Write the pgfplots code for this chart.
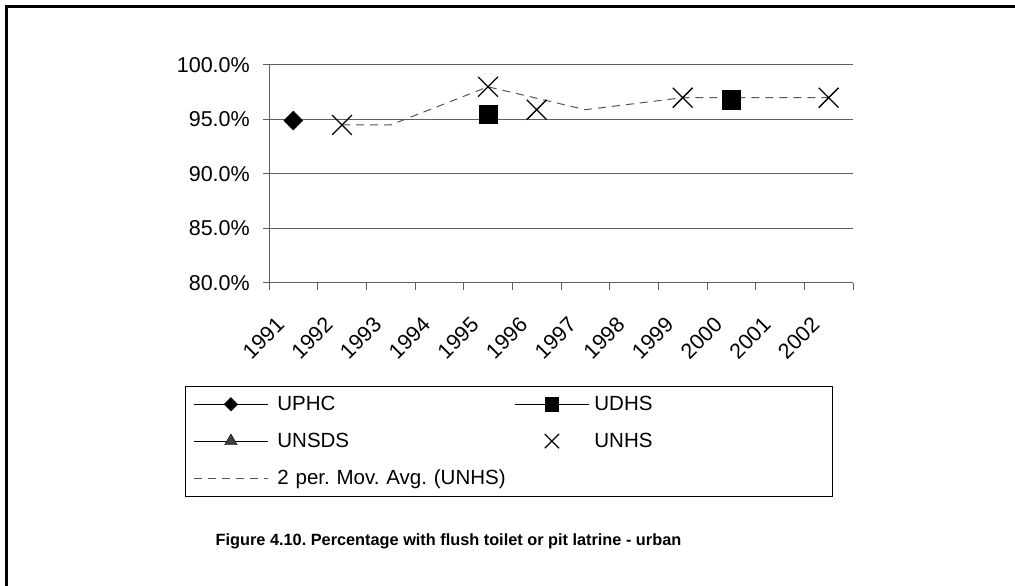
\documentclass[border=0pt]{standalone}
\usepackage{fontspec}
\setmainfont{Liberation Sans}
\usepackage{pgfplots}
\pgfplotsset{compat=1.18}
\definecolor{axgray}{RGB}{95,95,95}
\definecolor{mavg}{RGB}{85,85,85}
\frenchspacing
\begin{document}
\begin{tikzpicture}[x=1pt,y=1pt]
\useasboundingbox (0,0) rectangle (1015,586);
\fill[white] (-6,-6) rectangle (1025,595);
\draw[line width=2.4pt] (6.5,-5) -- (6.5,579.5) -- (1022,579.5);
\begin{axis}[
  at={(269pt,303pt)}, anchor=south west, scale only axis,
  width=584pt, height=218pt,
  xmin=-0.5, xmax=11.5, ymin=80, ymax=100,
  axis x line*=bottom, axis y line*=left,
  axis line style={axgray, line width=1pt, -},
  xtick={0,...,11},
  xticklabels={1991,1992,1993,1994,1995,1996,1997,1998,1999,2000,2001,2002},
  minor xtick={-0.5,0.5,...,11.5},
  ytick={80,85,90,95,100},
  yticklabels={80.0\%,85.0\%,90.0\%,95.0\%,100.0\%},
  tick align=outside, major tick length=6pt, minor tick length=7pt,
  tick style={axgray, line width=1pt},
  major x tick style={draw=none},
  ymajorgrids, grid style={axgray, line width=1pt},
  ticklabel style={font=\fontsize{21.5}{24}\selectfont},
  /pgf/number format/assume math mode=true,
  yticklabel style={anchor=east, inner sep=0pt, xshift=-13pt},
  xticklabel style={xshift=-30pt, yshift=-49pt, rotate=45, anchor=center, inner sep=0pt},
  clip=false,
  legend image code/.code={
    \draw[mark repeat=2, mark phase=2, #1, every mark/.append style={scale=0.72}]
      plot coordinates {(0pt,0pt) (37pt,0pt) (74pt,0pt)};
  },
  legend columns=2,
  legend cell align=left,
  legend style={
    at={(-0.1438,-0.4725)}, anchor=north west,
    draw=black, line width=0.8pt,
    font=\fontsize{20.5}{24}\selectfont\frenchspacing,
    inner xsep=8pt, inner ysep=7pt,
    row sep=15pt,
    nodes={inner sep=3pt},
    /tikz/column 1/.style={column sep=6pt},
    /tikz/column 2/.style={text width=232pt, column sep=2pt},
    /tikz/column 3/.style={column sep=2pt},
    /tikz/column 4/.style={text width=227pt},
  },
]
% data (x = category index: 0 = 1991 ... 11 = 2002)
\addplot[forget plot, only marks, mark=square*, mark size=6.7pt,
  mark options={rotate=45, fill=black, draw=black, line width=0.4pt}]
  coordinates {(0,94.9)};
\addplot[forget plot, only marks, mark=square*, mark size=9.2pt,
  mark options={fill=black, draw=black, line width=0.4pt}]
  coordinates {(4,95.5) (9,96.8)};
\addplot[forget plot, mavg, line width=1pt, dash pattern=on 8pt off 6pt]
  coordinates {(1,94.5) (2,94.5) (4,98.0) (5,96.95) (6,95.9) (8,97.0) (9,97.0) (11,97.0)};
\addplot[forget plot, only marks, mark=x, mark size=14pt,
  mark options={black, line width=1.3pt}]
  coordinates {(1,94.5) (4,98.0) (5,95.9) (8,97.0) (11,97.0)};
% legend
\addlegendimage{black, line width=1pt, mark=square*, mark options={rotate=45, fill=black, solid, line width=0.4pt}, mark size=6.7pt}
\addlegendentry{UPHC}
\addlegendimage{black, line width=1pt, mark=square*, mark options={fill=black, solid, line width=0.4pt}, mark size=9.2pt}
\addlegendentry{UDHS}
\addlegendimage{black, line width=1pt, mark=triangle*, mark options={fill=darkgray, draw=black, line width=0.4pt}, mark size=10pt}
\addlegendentry{UNSDS}
\addlegendimage{only marks, mark=x, mark size=14pt, mark options={black, line width=1.3pt}}
\addlegendentry{UNHS}
\addlegendimage{mavg, line width=1pt, dash pattern=on 8pt off 6pt}
\addlegendentry{2 per. Mov. Avg. (UNHS)}
\end{axis}
\node[font=\fontsize{16.3}{19}\bfseries] at (448.5,45) {Figure 4.10. Percentage with flush toilet or pit latrine - urban};
\end{tikzpicture}
\end{document}
